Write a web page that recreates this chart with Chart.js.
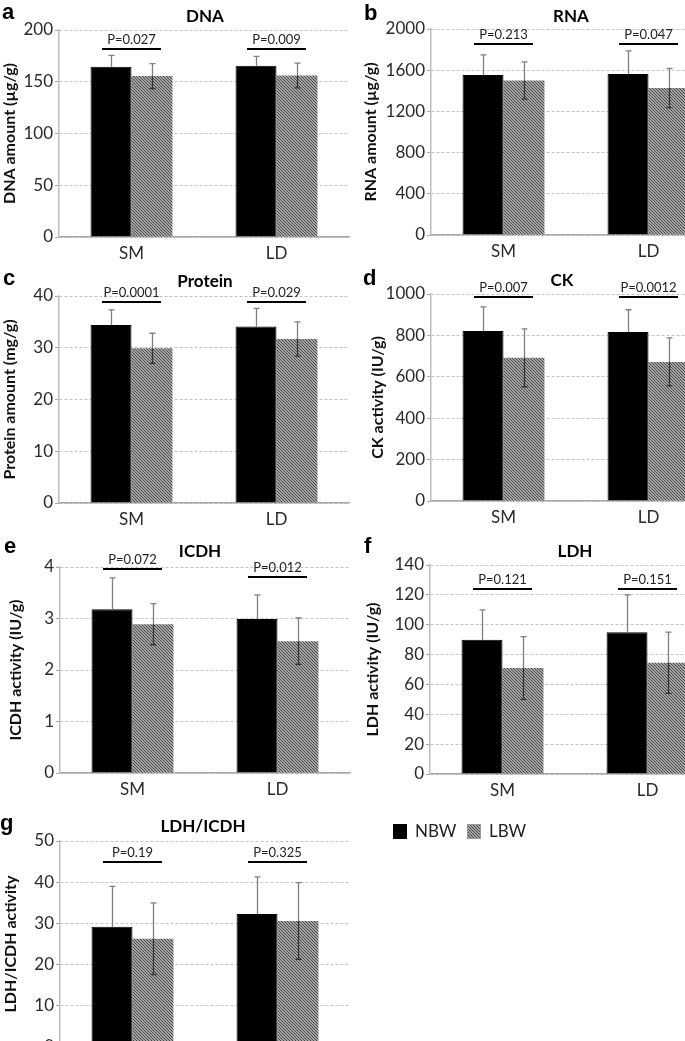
<!DOCTYPE html>
<html>
<head>
<meta charset="utf-8">
<script src="https://cdn.jsdelivr.net/npm/chart.js@4"></script>
<style>
html,body{margin:0;padding:0;background:#fff;overflow:hidden;width:685px;height:1041px;}
body{position:relative;}
canvas{position:absolute;display:block;}
</style>
</head>
<body>
<script>
// ---------- DATA ----------
const categories = ['SM', 'LD'];
const seriesNames = ['NBW', 'LBW'];

const dnaNBW = [164.5, 165.5], dnaNBWErr = [11, 9];
const dnaLBW = [155.5, 156], dnaLBWErr = [12, 12];
const dnaP = ['P=0.027', 'P=0.009'], dnaPLevel = [181.6, 181.6];
const dnaTicks = [0, 50, 100, 150, 200];

const rnaNBW = [1553, 1563], rnaNBWErr = [195, 225];
const rnaLBW = [1500, 1427], rnaLBWErr = [180, 190];
const rnaP = ['P=0.213', 'P=0.047'], rnaPLevel = [1854, 1854];
const rnaTicks = [0, 400, 800, 1200, 1600, 2000];

const protNBW = [34.4, 34.1], protNBWErr = [2.9, 3.5];
const protLBW = [29.9, 31.7], protLBWErr = [2.9, 3.3];
const protP = ['P=0.0001', 'P=0.029'], protPLevel = [38.8, 38.8];
const protTicks = [0, 10, 20, 30, 40];

const ckNBW = [821, 816], ckNBWErr = [117, 108];
const ckLBW = [692, 672], ckLBWErr = [140, 116];
const ckP = ['P=0.007', 'P=0.0012'], ckPLevel = [985, 985];
const ckTicks = [0, 200, 400, 600, 800, 1000];

const icdhNBW = [3.18, 2.99], icdhNBWErr = [0.61, 0.47];
const icdhLBW = [2.89, 2.56], icdhLBWErr = [0.40, 0.45];
const icdhP = ['P=0.072', 'P=0.012'], icdhPLevel = [3.96, 3.81];
const icdhTicks = [0, 1, 2, 3, 4];

const ldhNBW = [90, 95], ldhNBWErr = [20, 25];
const ldhLBW = [71, 74.5], ldhLBWErr = [21, 20.5];
const ldhP = ['P=0.121', 'P=0.151'], ldhPLevel = [124, 124];
const ldhTicks = [0, 20, 40, 60, 80, 100, 120, 140];

const ratioNBW = [29.2, 32.3], ratioNBWErr = [9.8, 9.0];
const ratioLBW = [26.3, 30.6], ratioLBWErr = [8.7, 9.3];
const ratioP = ['P=0.19', 'P=0.325'], ratioPLevel = [44.9, 44.9];
const ratioTicks = [0, 10, 20, 30, 40, 50];

const panelLetters = ['a', 'b', 'c', 'd', 'e', 'f', 'g'];
const panelTitles = ['DNA', 'RNA', 'Protein', 'CK', 'ICDH', 'LDH', 'LDH/ICDH'];
const yTitles = ['DNA amount (µg/g)', 'RNA amount (µg/g)', 'Protein amount (mg/g)',
  'CK activity (IU/g)', 'ICDH activity (IU/g)', 'LDH activity (IU/g)', 'LDH/ICDH activity'];

const panels = [
  {nbw: dnaNBW, nbwErr: dnaNBWErr, lbw: dnaLBW, lbwErr: dnaLBWErr, p: dnaP, pLevel: dnaPLevel, ticks: dnaTicks},
  {nbw: rnaNBW, nbwErr: rnaNBWErr, lbw: rnaLBW, lbwErr: rnaLBWErr, p: rnaP, pLevel: rnaPLevel, ticks: rnaTicks},
  {nbw: protNBW, nbwErr: protNBWErr, lbw: protLBW, lbwErr: protLBWErr, p: protP, pLevel: protPLevel, ticks: protTicks},
  {nbw: ckNBW, nbwErr: ckNBWErr, lbw: ckLBW, lbwErr: ckLBWErr, p: ckP, pLevel: ckPLevel, ticks: ckTicks},
  {nbw: icdhNBW, nbwErr: icdhNBWErr, lbw: icdhLBW, lbwErr: icdhLBWErr, p: icdhP, pLevel: icdhPLevel, ticks: icdhTicks},
  {nbw: ldhNBW, nbwErr: ldhNBWErr, lbw: ldhLBW, lbwErr: ldhLBWErr, p: ldhP, pLevel: ldhPLevel, ticks: ldhTicks},
  {nbw: ratioNBW, nbwErr: ratioNBWErr, lbw: ratioLBW, lbwErr: ratioLBWErr, p: ratioP, pLevel: ratioPLevel, ticks: ratioTicks}
];

// ---------- LAYOUT (page pixels) ----------
const PLOT_W = 290;
const layouts = [
  {cx: 0,   cy: 0,   cw: 352, ch: 265, axisX: 59,  topY: 30,  zeroY: 237,  yTitleX: 10,  titleX: 205, titleBase: 22,  lx: 2,   lb: 19},
  {cx: 342, cy: 0,   cw: 380, ch: 263, axisX: 431, topY: 29,  zeroY: 235,  yTitleX: 371, titleX: 571, titleBase: 22,  lx: 364, lb: 20},
  {cx: 0,   cy: 268, cw: 352, ch: 263, axisX: 59,  topY: 296, zeroY: 503,  yTitleX: 10,  titleX: 205, titleBase: 287, lx: 3,   lb: 285},
  {cx: 342, cy: 266, cw: 380, ch: 263, axisX: 431, topY: 294, zeroY: 501,  yTitleX: 378, titleX: 562, titleBase: 286, lx: 363, lb: 285},
  {cx: 0,   cy: 537, cw: 352, ch: 264, axisX: 60,  topY: 567, zeroY: 773,  yTitleX: 16,  titleX: 200, titleBase: 557, lx: 4,   lb: 553},
  {cx: 342, cy: 530, cw: 380, ch: 272, axisX: 430, topY: 565, zeroY: 774,  yTitleX: 373, titleX: 575, titleBase: 557, lx: 364, lb: 553},
  {cx: 0,   cy: 808, cw: 685, ch: 267, axisX: 60,  topY: 841, zeroY: 1047, yTitleX: 11,  titleX: 203, titleBase: 832, lx: 0,   lb: 830, legend: true}
];

Chart.defaults.font.family = 'Lato, "Open Sans", sans-serif';

function makeHatch(ctx) {
  const c = document.createElement('canvas');
  c.width = 3; c.height = 3;
  const x = c.getContext('2d');
  x.fillStyle = '#a4a4a4'; x.fillRect(0, 0, 3, 3);
  x.fillStyle = '#4a4a4a';
  for (let i = 0; i < 3; i++) { x.fillRect(i, i, 1, 1); }
  return ctx.createPattern(c, 'repeat');
}

function makeDecor(idx, P, L, hatch) {
  return {
    id: 'decor' + idx,
    afterDatasetsDraw(chart) {
      const ctx = chart.ctx, y = chart.scales.y;
      const m0 = chart.getDatasetMeta(0), m1 = chart.getDatasetMeta(1);
      ctx.save();
      const drawErr = (meta, vals, errs, both) => {
        meta.data.forEach((bar, j) => {
          const x = Math.round(bar.x) + 0.5;
          const yv = y.getPixelForValue(vals[j]);
          const yt = y.getPixelForValue(vals[j] + errs[j]);
          const yb = y.getPixelForValue(vals[j] - errs[j]);
          ctx.lineWidth = 1.3;
          ctx.strokeStyle = '#7f7f7f';
          ctx.beginPath();
          ctx.moveTo(x, yv); ctx.lineTo(x, yt);
          ctx.moveTo(x - 3, yt); ctx.lineTo(x + 3, yt);
          ctx.stroke();
          if (both) {
            ctx.strokeStyle = '#333';
            ctx.beginPath();
            ctx.moveTo(x, yv); ctx.lineTo(x, yb);
            ctx.moveTo(x - 3, yb); ctx.lineTo(x + 3, yb);
            ctx.stroke();
          }
        });
      };
      drawErr(m0, P.nbw, P.nbwErr, false);
      drawErr(m1, P.lbw, P.lbwErr, true);
      // p-value brackets
      categories.forEach((c, j) => {
        const mx = (m0.data[j].x + m1.data[j].x) / 2;
        const ly = Math.round(y.getPixelForValue(P.pLevel[j]));
        ctx.strokeStyle = '#000';
        ctx.lineWidth = 2;
        ctx.beginPath();
        ctx.moveTo(mx - 29.5, ly); ctx.lineTo(mx + 29.5, ly);
        ctx.stroke();
        ctx.fillStyle = '#222';
        ctx.font = '13px Lato, "Open Sans", sans-serif';
        ctx.textAlign = 'center';
        ctx.textBaseline = 'alphabetic';
        ctx.fillText(P.p[j], mx, ly - 5);
      });
      ctx.restore();
    },
    afterDraw(chart) {
      const ctx = chart.ctx;
      ctx.save();
      ctx.fillStyle = '#000';
      ctx.textBaseline = 'alphabetic';
      ctx.textAlign = 'center';
      ctx.font = 'bold 17px Lato, "Open Sans", sans-serif';
      ctx.fillText(panelTitles[idx], L.titleX - L.cx, L.titleBase - L.cy);
      ctx.textAlign = 'left';
      ctx.font = 'bold 22px "Liberation Sans", Arial, sans-serif';
      ctx.fillText(panelLetters[idx], L.lx - L.cx, L.lb - L.cy);
      if (L.legend) {
        const ly = 824 - L.cy;
        ctx.fillStyle = '#000';
        ctx.fillRect(393 - L.cx, ly, 14, 15);
        ctx.fillStyle = hatch;
        ctx.fillRect(467 - L.cx, ly, 14, 15);
        ctx.strokeStyle = '#9a9a9a'; ctx.lineWidth = 1;
        ctx.strokeRect(467.5 - L.cx, ly + 0.5, 13, 14);
        ctx.fillStyle = '#222';
        ctx.font = '17px Lato, "Open Sans", sans-serif';
        ctx.textBaseline = 'middle';
        ctx.fillText(seriesNames[0], 415 - L.cx, ly + 8);
        ctx.fillText(seriesNames[1], 489 - L.cx, ly + 8);
      }
      ctx.restore();
    }
  };
}

panels.forEach((P, idx) => {
  const L = layouts[idx];
  const cv = document.createElement('canvas');
  cv.width = L.cw; cv.height = L.ch;
  cv.style.left = L.cx + 'px'; cv.style.top = L.cy + 'px';
  cv.style.width = L.cw + 'px'; cv.style.height = L.ch + 'px';
  document.body.appendChild(cv);
  const ctx = cv.getContext('2d');
  const hatch = makeHatch(ctx);
  const yW = L.axisX - L.cx;
  new Chart(cv, {
    type: 'bar',
    data: {
      labels: categories,
      datasets: [
        {label: seriesNames[0], data: P.nbw, backgroundColor: '#000', borderColor: '#000', borderWidth: 1,
         categoryPercentage: 0.565, barPercentage: 1},
        {label: seriesNames[1], data: P.lbw, backgroundColor: hatch, borderWidth: 0,
         categoryPercentage: 0.565, barPercentage: 1}
      ]
    },
    options: {
      responsive: false,
      animation: false,
      devicePixelRatio: 1,
      layout: {padding: {left: 0, top: L.topY - L.cy, right: L.cw - yW - PLOT_W, bottom: 0}},
      plugins: {legend: {display: false}, tooltip: {enabled: false}},
      scales: {
        x: {
          grid: {display: false, drawTicks: false},
          border: {display: true, color: '#a8a8a8', width: 1.5},
          ticks: {padding: 6, color: '#2a2a2a', font: {size: 17}},
          afterFit(s) { s.height = L.ch - (L.zeroY - L.cy); }
        },
        y: {
          min: P.ticks[0],
          max: P.ticks[P.ticks.length - 1],
          afterBuildTicks(s) { s.ticks = P.ticks.map(v => ({value: v})); },
          grid: {color: '#c4c4c4', lineWidth: 1, tickLength: 4, tickColor: '#a8a8a8', tickWidth: 1},
          border: {display: true, color: '#bdbdbd', width: 1.5, dash: [3, 2]},
          ticks: {padding: 2, color: '#2a2a2a', font: {size: 17}, callback: v => String(v)},
          title: {display: true, text: yTitles[idx], color: '#111',
                  font: {size: 16, weight: 'bold'}, padding: {top: L.yTitleX - L.cx - 9.6, bottom: 0}},
          afterFit(s) { s.width = yW; }
        }
      }
    },
    plugins: [makeDecor(idx, P, L, hatch)]
  });
});
</script>
</body>
</html>
